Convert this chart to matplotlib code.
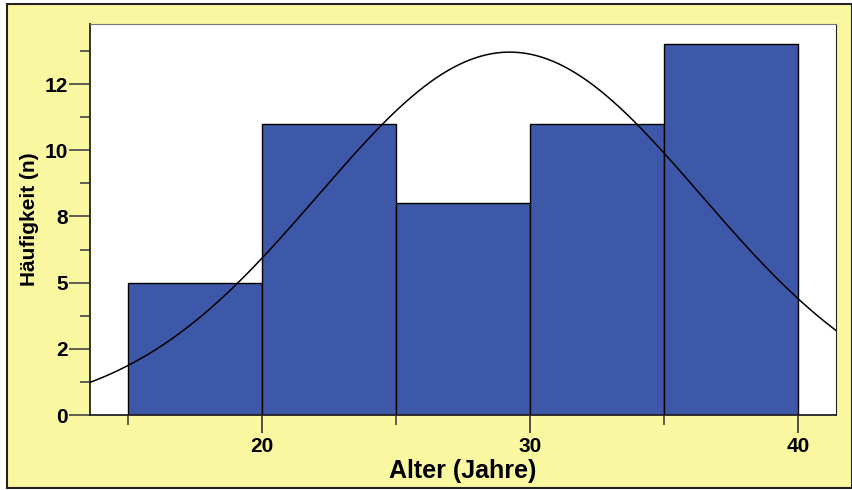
import numpy as np
import matplotlib
matplotlib.use("Agg")
import matplotlib.pyplot as plt
from matplotlib.patches import Rectangle
from matplotlib.ticker import FixedLocator

bin_edges = [15, 20, 25, 30, 35, 40]
counts = [5, 11, 8, 11, 14]
curve_mean = 29.25
curve_sd = 7.13
xticks = [20, 30, 40]
xminor = [15, 25, 35]
yticks = [0, 2.5, 5, 7.5, 10, 12.5]
ytick_labels = ["0", "2", "5", "8", "10", "12"]
yminor = [1.25, 3.75, 6.25, 8.75, 11.25, 13.75]

plt.rcParams['font.family'] = ['Liberation Sans', 'DejaVu Sans']

fig = plt.figure(figsize=(8.53, 4.90), dpi=100)
fig.patch.set_facecolor('white')
fig.patches.append(Rectangle((7/853, 2/490), 845/853, 484/490, transform=fig.transFigure,
                             facecolor='#F9F7A0', edgecolor='#222222', linewidth=1.5, zorder=-5))

ax = fig.add_axes([90/853, 75/490, 746/853, 391/490])
ax.set_zorder(1)
ax.set_facecolor('white')

widths = np.diff(bin_edges)
ax.bar(bin_edges[:-1], counts, width=widths, align='edge', color='#3D58A8',
       edgecolor='black', linewidth=1.0, zorder=2)

xlim = (13.6, 41.42)
xs = np.linspace(xlim[0], xlim[1], 400)
n = sum(counts)
bw = widths[0]
ys = n * bw / (curve_sd * np.sqrt(2 * np.pi)) * np.exp(-0.5 * ((xs - curve_mean) / curve_sd) ** 2)
ax.plot(xs, ys, color='black', linewidth=1.1, zorder=3)

ax.set_xlim(*xlim)
ax.set_ylim(0, 14.77)

ax.set_xticks(xticks)
ax.set_xticklabels([str(t) for t in xticks])
ax.xaxis.set_minor_locator(FixedLocator(xminor))
ax.set_yticks(yticks)
ax.set_yticklabels(ytick_labels)
ax.yaxis.set_minor_locator(FixedLocator(yminor))

ax.tick_params(axis='x', which='major', length=13, width=1.2, color='#333333',
               labelsize=15, pad=3)
ax.tick_params(axis='y', which='major', length=15, width=1.2, color='#444444',
               labelsize=15, pad=1)
ax.tick_params(axis='both', which='minor', length=7, width=1.2, color='#444444')
for lab in ax.get_xticklabels() + ax.get_yticklabels():
    lab.set_fontweight('bold')

for side in ['left', 'bottom']:
    ax.spines[side].set_color('#222222')
    ax.spines[side].set_linewidth(1.3)
ax.spines['top'].set_color('#777777')
ax.spines['right'].set_color('#222222')

ax.set_xlabel('Alter (Jahre)', fontsize=18, fontweight='bold', labelpad=2)
ax.set_ylabel('Häufigkeit (n)', fontsize=15, fontweight='bold', labelpad=4)

fig.savefig('out.png', dpi=100)
